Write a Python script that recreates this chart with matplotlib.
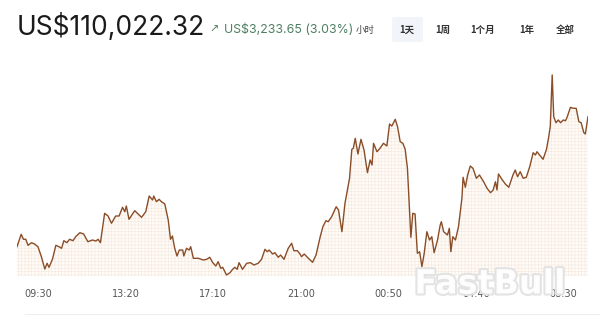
import matplotlib
matplotlib.use("Agg")
import matplotlib.pyplot as plt
import matplotlib.patheffects as pe
from matplotlib.patches import FancyBboxPatch
from matplotlib.lines import Line2D

plt.rcParams['hatch.linewidth'] = 0.3

# minutes relative to 09:30 (first day)
minutes = [-55, -44, -38, -32, -26, -17, -9, 0, 9, 18, 24, 29, 38, 47, 55, 62, 68, 76, 83, 92,
           99, 110, 120, 131, 143, 152, 158, 164, 175, 184, 193, 204, 213, 222, 228, 232, 239, 254, 272, 283,
           292, 301, 304, 311, 318, 324, 333, 342, 348, 353, 359, 365, 371, 380, 383, 390, 397, 401, 408, 421,
           434, 443, 451, 459, 467, 473, 480, 485, 495, 504, 511, 517, 523, 528, 537, 548, 558, 567, 578, 587,
           596, 602, 607, 616, 622, 631, 637, 646, 657, 666, 672, 681, 688, 692, 699, 710, 721, 730, 741, 748,
           756, 762, 771, 783, 789, 798, 806, 818, 824, 828, 833, 840, 848, 856, 865, 872, 877, 881, 890, 898,
           907, 916, 923, 929, 938, 944, 951, 958, 964, 970, 979, 984, 990, 996, 1002, 1008, 1014, 1021, 1028, 1034,
           1040, 1049, 1056, 1059, 1065, 1075, 1080, 1084, 1089, 1096, 1104, 1113, 1116, 1122, 1128, 1135, 1142, 1151, 1159, 1170,
           1179, 1188, 1195, 1201, 1205, 1209, 1218, 1227, 1236, 1247, 1253, 1259, 1266, 1274, 1282, 1291, 1300, 1306, 1310, 1317,
           1326, 1335, 1341, 1345, 1350, 1354, 1360, 1366, 1372, 1379, 1385, 1389, 1398, 1405, 1413, 1420, 1426, 1433, 1437, 1444]

prices = [106789, 107097, 106973, 106973, 106823, 106888, 106856, 106789, 106540, 106234, 106376, 106276, 106475, 106823, 106789, 106749, 106938, 106888, 106973, 106938,
          107037, 107137, 107104, 106913, 106955, 106930, 106973, 106888, 107619, 107552, 107371, 107552, 107552, 107768, 107659, 107801, 107470, 107684, 107520, 107659,
          108049, 107950, 108049, 107908, 107967, 107908, 107851, 107453, 106973, 107055, 106749, 106557, 106706, 106706, 106557, 106749, 106706, 106789, 106500, 106500,
          106458, 106475, 106525, 106391, 106309, 106416, 106251, 106276, 106085, 106142, 106226, 106276, 106226, 106391, 106226, 106376, 106391, 106333, 106376, 106475,
          106724, 106664, 106706, 106607, 106640, 106525, 106582, 106475, 106749, 106873, 106689, 106689, 106607, 106540, 106607, 106500, 106400, 106582, 107037, 107286,
          107435, 107410, 107535, 107783, 107701, 107162, 107868, 108490, 109211, 109236, 109484, 109094, 109460, 109193, 108629, 108945, 108820, 109360, 109151, 109236,
          109360, 109293, 109840, 109790, 109957, 109773, 109400, 109360, 109211, 108738, 107022, 107619, 107602, 106624, 106664, 106291, 106624, 107162, 106955, 107037,
          106639, 106955, 107328, 107410, 107162, 107080, 107246, 106664, 107037, 106955, 107286, 107992, 108515, 108266, 108572, 108796, 108738, 108490, 108572, 108405,
          108241, 108132, 108199, 108405, 108199, 108597, 108465, 108348, 108266, 108572, 108696, 108529, 108654, 108490, 108515, 108778, 109126, 109069, 109151, 109069,
          108962, 109211, 109524, 109790, 111059, 110022, 109872, 109940, 109872, 109940, 109922, 110007, 110255, 110231, 110231, 109897, 109872, 109624, 109591, 110022]

tick_minutes = [0, 230, 460, 690, 920, 1150, 1380]
tick_labels = ["09:30", "13:20", "17:10", "21:00", "00:50", "04:40", "08:30"]

price_text = "US$110,022.32"
change_text = "US$3,233.65 (3.03%)"
period_text = "小时"
range_buttons = ["1天", "1周", "1个月", "1年", "全部"]

W, H = 600, 319
fig = plt.figure(figsize=(6, 3.19), dpi=100)
fig.patch.set_facecolor('white')

ax = fig.add_axes([17 / W, 1 - 276.4 / H, (588 - 17) / W, (276.4 - 70) / H])
ymin, ymax = 106050, 111183
ax.fill_between(minutes, prices, ymin, facecolor='#fefbf8', edgecolor='#f4e2d4',
                hatch='+++++', linewidth=0)
ax.plot(minutes, prices, color='#8a4d27', linewidth=1.0, solid_joinstyle='round')
ax.set_xlim(minutes[0], minutes[-1])
ax.set_ylim(ymin, ymax)
for s in ax.spines.values():
    s.set_visible(False)
ax.set_yticks([])
ax.set_xticks(tick_minutes)
ax.set_xticklabels(tick_labels, fontsize=7, color='#555555', family='DejaVu Sans')
ax.tick_params(axis='x', length=0, pad=9)

# header
fig.text(17 / W, 1 - 27 / H, price_text, fontsize=19, color='#1a1a1a',
         family=['Inter', 'DejaVu Sans'], va='center', ha='left')
fig.text(209 / W, 1 - 30 / H, "\u2197", fontsize=8, color='#4f7f62',
         family=['DejaVu Sans'], va='center', ha='left')
fig.text(224 / W, 1 - 30 / H, change_text, fontsize=8.9, color='#4f7f62',
         family=['Inter', 'DejaVu Sans'], va='center', ha='left')
fig.text(356 / W, 1 - 30 / H, period_text, fontsize=6.8, color='#444444',
         family=['Noto Sans CJK SC', 'DejaVu Sans'], va='center', ha='left')

box = FancyBboxPatch((392 / W, 1 - 42 / H), 31 / W, 25 / H,
                     boxstyle='round,pad=0,rounding_size=0.006',
                     transform=fig.transFigure, facecolor='#f1f4f9', edgecolor='none')
fig.patches.append(box)
button_x = [407, 443, 483, 527, 565]
for bx, lab in zip(button_x, range_buttons):
    fig.text(bx / W, 1 - 30 / H, lab, fontsize=6.8, color='#333333', fontweight='bold',
             family=['Noto Sans CJK SC', 'DejaVu Sans'], va='center', ha='center')

# bottom separator
fig.lines.append(Line2D([25 / W, 1], [1 - 314 / H, 1 - 314 / H], transform=fig.transFigure,
                        color='#eeeeee', linewidth=0.8))

# watermark
fig.text(490 / W, 1 - 284 / H, "FastBull", fontsize=24, color='white', fontweight='bold',
         family=['DejaVu Sans'], va='center', ha='center', alpha=0.95,
         path_effects=[pe.withStroke(linewidth=3, foreground='#e2e2e2')])

fig.savefig('out.png', dpi=100, facecolor='white')
